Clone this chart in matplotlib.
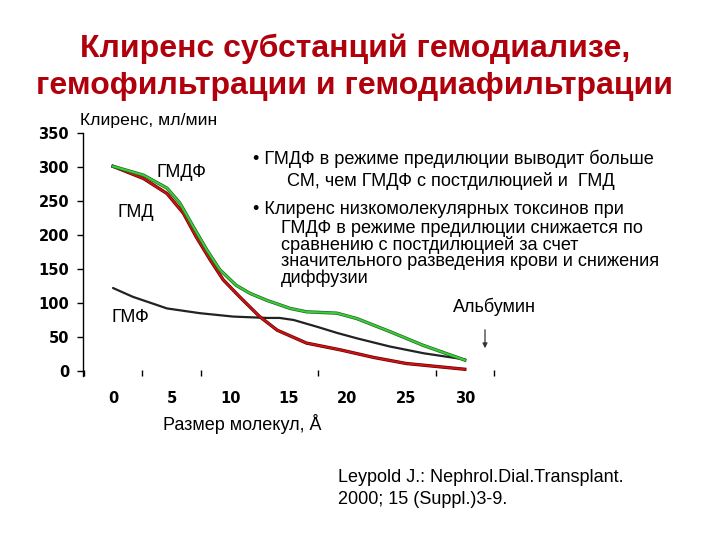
import matplotlib
matplotlib.use("Agg")
import matplotlib.pyplot as plt
import matplotlib.patheffects as pe

# Data
x_hdf = [0, 2.6, 4.6, 5.7, 6.85, 8.0, 9.1, 10.5, 11.7, 13.1, 15.1, 16.5, 19.1, 20.8, 23.6, 26.4, 30]
y_hdf = [301, 288, 269, 247, 212, 178, 149, 126, 114, 104, 92, 87, 85, 77, 58, 38, 16]

x_hd = [0, 2.6, 4.6, 6.0, 7.1, 8.3, 9.4, 10.8, 12.5, 14.0, 16.5, 19.4, 22.2, 25.0, 30]
y_hd = [301, 283, 261, 232, 197, 163, 134, 109, 80, 60, 41, 31, 20, 11, 2.5]

x_hf = [0, 1.7, 4.6, 7.4, 10.25, 13.1, 14.2, 15.4, 17.4, 19.1, 20.8, 23.6, 26.5, 30]
y_hf = [122, 109, 92, 85, 80, 78, 78, 75, 65, 56, 48, 36, 26, 17]

y_ticks = [0, 50, 100, 150, 200, 250, 300, 350]
x_labels = [0, 5, 10, 15, 20, 25, 30]
x_tick_marks = [-2.5, 2.5, 7.5, 17.5, 27.5, 32.5]

bullet1 = ["• ГМДФ в режиме предилюции выводит больше",
           "СМ, чем ГМДФ с постдилюцией и  ГМД"]
bullet2_head = "• Клиренс низкомолекулярных токсинов при"
bullet2_body = ["ГМДФ в режиме предилюции снижается по",
                "сравнению с постдилюцией за счет",
                "значительного разведения крови и снижения",
                "диффузии"]

SANS = ["Liberation Sans", "DejaVu Sans"]

fig = plt.figure(figsize=(7.2, 5.4), dpi=100)
W, H = 720, 540

def fx(px):
    return px / W

def fy(py):
    return 1 - py / H

# axes: left px 83, right px 500, top py 133, bottom py 376
ax = fig.add_axes([fx(83), fy(376), (500 - 83) / W, (376 - 133) / H])
ax.set_xlim(-2.56, 33)
ax.set_ylim(-7.4, 350)

ax.plot(x_hf, y_hf, color="#222222", lw=1.6, solid_capstyle="round")
ax.plot(x_hd, y_hd, color="#c81414", lw=1.4,
        path_effects=[pe.Stroke(linewidth=2.4, foreground="#6e0000"), pe.Normal()])
ax.plot(x_hdf, y_hdf, color="#3ccc3c", lw=1.4,
        path_effects=[pe.Stroke(linewidth=2.4, foreground="#1d6a1d"), pe.Normal()])

for s in ["top", "right", "bottom"]:
    ax.spines[s].set_visible(False)
ax.spines["left"].set_color("black")
ax.spines["left"].set_linewidth(1.0)

ax.set_yticks(y_ticks)
ax.set_yticklabels([str(v) for v in y_ticks], fontweight="bold", fontsize=10.5,
                   family="DejaVu Sans")
ax.tick_params(axis="y", direction="out", length=4, width=1, pad=6)
ax.set_xticks(x_tick_marks)
ax.set_xticklabels([])
ax.tick_params(axis="x", direction="in", length=4.5, width=1)

for v in x_labels:
    ax.text(v, -40, str(v), ha="center", va="center", fontsize=10.5,
            fontweight="bold", family="DejaVu Sans")

# Curve labels
lfs = 13
ax.text(3.7, 292, "ГМДФ", fontsize=lfs, family=SANS, va="center", ha="left")
ax.text(0.35, 233, "ГМД", fontsize=lfs, family=SANS, va="center", ha="left")
ax.text(-0.15, 78, "ГМФ", fontsize=lfs, family=SANS, va="center", ha="left")

# Axis titles
fig.text(fx(80), fy(120), "Клиренс, мл/мин", fontsize=12.6, family=SANS,
         va="center", ha="left")
fig.text(fx(242), fy(424), "Размер молекул, Å", fontsize=13, family=SANS,
         va="center", ha="center")

# Title
title_col = "#b0000c"
fig.text(fx(355), fy(49), "Клиренс субстанций гемодиализе,", fontsize=23,
         fontweight="bold", color=title_col, family=SANS, ha="center", va="center")
fig.text(fx(355), fy(86), "гемофильтрации и гемодиафильтрации", fontsize=23,
         fontweight="bold", color=title_col, family=SANS, ha="center", va="center")

# Bullets
bfs = 13.1
fig.text(fx(253), fy(159), bullet1[0], fontsize=bfs,
         family=SANS, va="center", ha="left")
fig.text(fx(287), fy(181), bullet1[1], fontsize=bfs,
         family=SANS, va="center", ha="left")
fig.text(fx(253), fy(209), bullet2_head, fontsize=bfs,
         family=SANS, va="center", ha="left")
fig.text(fx(281), fy(220), "\n".join(bullet2_body), fontsize=bfs,
         family=SANS, va="top", ha="left", linespacing=0.93)

# Albumin annotation
fig.text(fx(494), fy(307), "Альбумин", fontsize=lfs, family=SANS,
         va="center", ha="center")
fig.add_artist(matplotlib.patches.FancyArrowPatch(
    (fx(485), fy(327)), (fx(485), fy(351)), transform=fig.transFigure,
    arrowstyle="-|>", mutation_scale=7, color="#333333", lw=0.9))

# Reference
fig.text(fx(338), fy(478), "Leypold J.: Nephrol.Dial.Transplant.", fontsize=13,
         family=SANS, va="center", ha="left")
fig.text(fx(338), fy(500), "2000; 15 (Suppl.)3-9.", fontsize=13,
         family=SANS, va="center", ha="left")

fig.savefig("out.png", dpi=100)
